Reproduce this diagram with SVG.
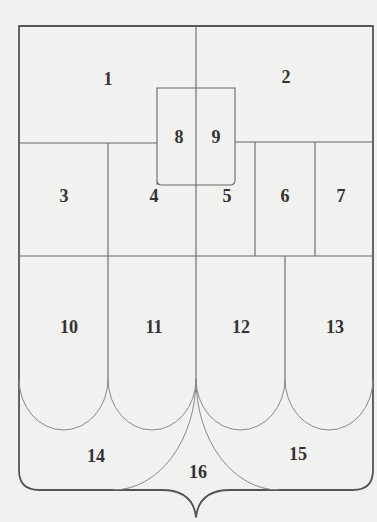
<svg xmlns="http://www.w3.org/2000/svg" width="377" height="522" viewBox="0 0 377 522">
<style>
.bg{fill:#f1f1ef}
.frame{fill:none;stroke:#555;stroke-width:1.8;stroke-linejoin:round}
.ln{fill:none;stroke:#666;stroke-width:1.1}
.arc{fill:none;stroke:#888;stroke-width:1}
.lb{font-family:"Liberation Serif","Times New Roman",serif;font-weight:bold;font-size:18px;fill:#333;text-anchor:middle}
</style>
<rect class="bg" x="0" y="0" width="377" height="522"/>
<g id="connectors">
<path class="frame" d="M19,26 H373 V470 Q373,490 353,490 H230 C208,490 198,500 196,517 C194,500 184,490 162,490 H39 Q19,490 19,470 Z"/>
<line class="ln" x1="196" y1="26" x2="196" y2="380"/>
<line class="ln" x1="19" y1="143" x2="157" y2="143"/>
<line class="ln" x1="235" y1="142" x2="373" y2="142"/>
<path class="ln" d="M157,185 V88 H235 V180 Q235,185 230,185 H162 Q157,185 157,180"/>
<line class="ln" x1="108" y1="143" x2="108" y2="380"/>
<line class="ln" x1="255" y1="142" x2="255" y2="256"/>
<line class="ln" x1="315" y1="142" x2="315" y2="256"/>
<line class="ln" x1="19" y1="256" x2="373" y2="256"/>
<line class="ln" x1="285" y1="256" x2="285" y2="380"/>
<path class="arc" d="M19,379 A44.5,51 0 0 0 108,379"/>
<path class="arc" d="M108,379 A44,51 0 0 0 196,379"/>
<path class="arc" d="M196,379 A44.5,51 0 0 0 285,379"/>
<path class="arc" d="M285,379 A44,51 0 0 0 373,379"/>
<path class="arc" d="M196,379 A83,111 0 0 1 113,490"/>
<path class="arc" d="M196,379 A83,111 0 0 0 279,490"/>
</g>
<g id="n1"><text class="lb" x="108" y="85">1</text></g>
<g id="n2"><text class="lb" x="286" y="83">2</text></g>
<g id="n3"><text class="lb" x="64" y="202">3</text></g>
<g id="n4"><text class="lb" x="154" y="202">4</text></g>
<g id="n5"><text class="lb" x="227" y="202">5</text></g>
<g id="n6"><text class="lb" x="285" y="202">6</text></g>
<g id="n7"><text class="lb" x="341" y="202">7</text></g>
<g id="n8"><text class="lb" x="179" y="143">8</text></g>
<g id="n9"><text class="lb" x="216" y="143">9</text></g>
<g id="n10"><text class="lb" x="69" y="333">10</text></g>
<g id="n11"><text class="lb" x="154" y="333">11</text></g>
<g id="n12"><text class="lb" x="241" y="333">12</text></g>
<g id="n13"><text class="lb" x="335" y="333">13</text></g>
<g id="n14"><text class="lb" x="96" y="462">14</text></g>
<g id="n15"><text class="lb" x="298" y="460">15</text></g>
<g id="n16"><text class="lb" x="198" y="478">16</text></g>
</svg>
